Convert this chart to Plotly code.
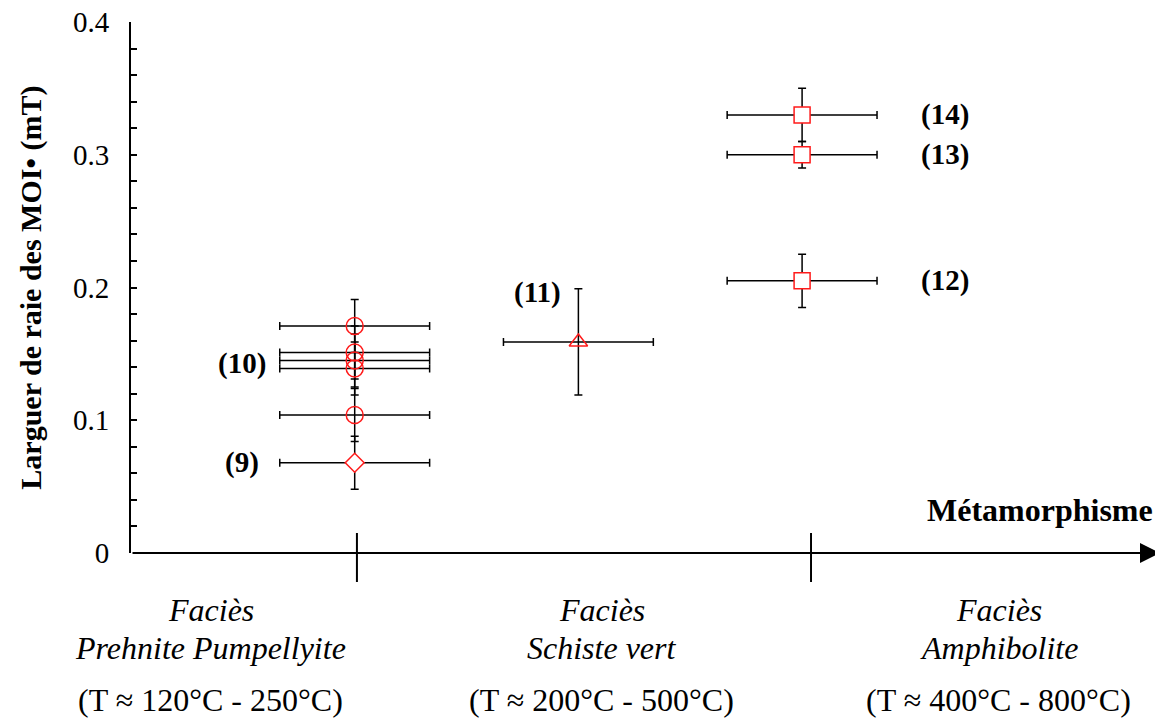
import plotly.graph_objects as go

# ---------------- data ----------------
facies_pos = [1, 2, 3]                      # x position of each metamorphic facies
facies_names = ["Prehnite Pumpellyite", "Schiste vert", "Amphibolite"]
facies_temps = ["(T ≈ 120°C - 250°C)", "(T ≈ 200°C - 500°C)", "(T ≈ 400°C - 800°C)"]

circle_x = [1, 1, 1, 1, 1]
circle_y = [0.171, 0.151, 0.145, 0.139, 0.104]
circle_yerr = [0.02, 0.02, 0.02, 0.02, 0.02]
circle_xerr = [0.335, 0.335, 0.335, 0.335, 0.335]

diamond_x = [1]
diamond_y = [0.068]
diamond_yerr = [0.02]
diamond_xerr = [0.335]

triangle_x = [2]
triangle_y = [0.159]
triangle_yerr = [0.04]
triangle_xerr = [0.335]

square_x = [3, 3, 3]
square_y = [0.205, 0.300, 0.330]
square_yerr = [0.02, 0.01, 0.02]
square_xerr = [0.335, 0.335, 0.335]

sample_labels = ["(9)", "(10)", "(11)", "(12)", "(13)", "(14)"]
sample_label_x = [0.495, 0.495, 1.818, 3.637, 3.637, 3.637]
sample_label_y = [0.068, 0.143, 0.196, 0.205, 0.300, 0.330]

facies_label_x = [0.356, 2.104, 3.879]
facies_tick_x = [1.01, 3.04]

y_ticks = [0, 0.1, 0.2, 0.3, 0.4]
y_ticktext = ["0", "0.1", "0.2", "0.3", "0.4"]

X_RANGE = [0, 4.6]
Y_RANGE = [0, 0.4]

FONT = "Liberation Serif, Times New Roman, serif"
FS = 29
FS_BIG = 32
RED = "#FF1A1A"

# ---------------- figure ----------------
fig = go.Figure()


def err(arr):
    return dict(type="data", array=arr, visible=True, color="black",
                thickness=1.5, width=4)


fig.add_trace(go.Scatter(
    x=circle_x, y=circle_y, mode="markers",
    error_x=err(circle_xerr), error_y=err(circle_yerr),
    marker=dict(symbol="circle-open", size=17, color=RED, line=dict(width=1.5, color=RED)),
    showlegend=False, cliponaxis=False))

fig.add_trace(go.Scatter(
    x=diamond_x, y=diamond_y, mode="markers",
    error_x=err(diamond_xerr), error_y=err(diamond_yerr),
    marker=dict(symbol="diamond", size=14.5, color="white", line=dict(width=1.5, color=RED)),
    showlegend=False, cliponaxis=False))

fig.add_trace(go.Scatter(
    x=triangle_x, y=triangle_y, mode="markers",
    error_x=err(triangle_xerr), error_y=err(triangle_yerr),
    marker=dict(symbol="triangle-up-open", size=16, color=RED, line=dict(width=1.5, color=RED)),
    showlegend=False, cliponaxis=False))

fig.add_trace(go.Scatter(
    x=square_x, y=square_y, mode="markers",
    error_x=err(square_xerr), error_y=err(square_yerr),
    marker=dict(symbol="square", size=16, color="white", line=dict(width=1.5, color=RED)),
    showlegend=False, cliponaxis=False))

annotations = []

# x axis arrow (metamorphism direction)
annotations.append(dict(
    x=X_RANGE[1], y=0, ax=X_RANGE[0], ay=0, xref="x", yref="y", axref="x", ayref="y",
    text="", showarrow=True, arrowhead=2, arrowsize=2, arrowwidth=2, arrowcolor="black",
    standoff=0, startstandoff=0))

annotations.append(dict(
    x=0.995, y=0.081, xref="paper", yref="paper", xanchor="right", yanchor="middle",
    text="<b>Métamorphisme</b>", showarrow=False, font=dict(family=FONT, size=FS_BIG, color="black")))

# y axis title
annotations.append(dict(
    x=-0.098, y=0.5, xref="paper", yref="paper", xanchor="center", yanchor="middle",
    text="<b>Larguer de raie des MOI• (mT)</b>", textangle=-90, showarrow=False,
    font=dict(family=FONT, size=30, color="black")))

# sample labels
for t, lx, ly in zip(sample_labels, sample_label_x, sample_label_y):
    annotations.append(dict(
        x=lx, y=ly, xref="x", yref="y", xanchor="center", yanchor="middle",
        text="<b>" + t + "</b>", showarrow=False,
        font=dict(family=FONT, size=FS, color="black")))

# facies labels under the axis
for name, temp, lx in zip(facies_names, facies_temps, facies_label_x):
    annotations.append(dict(
        x=lx, y=-0.107, xref="x", yref="paper", xanchor="center", yanchor="middle",
        text="<i>Faciès</i>", showarrow=False, font=dict(family=FONT, size=FS_BIG, color="black")))
    annotations.append(dict(
        x=lx, y=-0.179, xref="x", yref="paper", xanchor="center", yanchor="middle",
        text="<i>" + name + "</i>", showarrow=False, font=dict(family=FONT, size=FS_BIG, color="black")))
    annotations.append(dict(
        x=lx, y=-0.277, xref="x", yref="paper", xanchor="center", yanchor="middle",
        text=temp, showarrow=False, font=dict(family=FONT, size=FS_BIG, color="black")))

shapes = []
for tx in facies_tick_x:
    shapes.append(dict(type="line", xref="x", yref="paper", x0=tx, x1=tx,
                       y0=-0.0546, y1=0.0377, line=dict(color="black", width=2)))

# the page body has an 8px margin, so the figure is 8px smaller than the window
fig.update_layout(
    width=1155, height=712,
    margin=dict(l=123, r=3, t=14, b=167, autoexpand=False),
    paper_bgcolor="white", plot_bgcolor="white",
    showlegend=False,
    annotations=annotations,
    shapes=shapes,
    xaxis=dict(range=X_RANGE, showgrid=False, zeroline=False, showline=False,
               showticklabels=False, ticks="", automargin=False),
    yaxis=dict(range=Y_RANGE, showgrid=False, zeroline=False, showline=True,
               automargin=False,
               linecolor="black", linewidth=2,
               tickmode="array", tickvals=y_ticks, ticktext=y_ticktext,
               ticks="inside", ticklen=6, tickwidth=1.5, tickcolor="black",
               ticklabelstandoff=14, ticklabeloverflow="allow",
               minor=dict(dtick=0.02, ticks="inside", ticklen=6, tickwidth=1.5, tickcolor="black"),
               tickfont=dict(family=FONT, size=FS, color="black")),
)

fig.write_html("out.html")
